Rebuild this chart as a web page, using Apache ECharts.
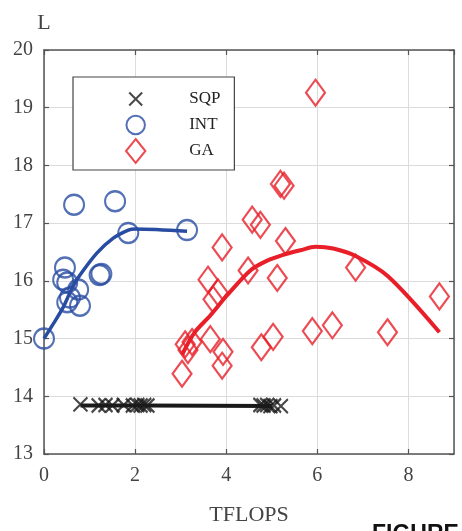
<!DOCTYPE html>
<html>
<head>
<meta charset="utf-8">
<script src="https://cdn.jsdelivr.net/npm/echarts@6/dist/echarts.min.js"></script>
<style>
  html, body { margin: 0; padding: 0; background: #fff; }
  #chart { width: 462px; height: 531px; }
</style>
</head>
<body>
<div id="chart"></div>
<script>
// Axis ticks
const xTicks = [0, 2, 4, 6, 8];
const yTicks = [13, 14, 15, 16, 17, 18, 19, 20];

// SQP runs
const sqpX = [0.80, 1.20, 1.35, 1.50, 1.75, 1.95, 2.05, 2.12, 2.20, 2.27, 4.75, 4.82, 4.90, 4.97, 5.05, 5.20];
const sqpY = [13.86, 13.84, 13.85, 13.84, 13.85, 13.84, 13.85, 13.84, 13.85, 13.84, 13.85, 13.84, 13.85, 13.83, 13.84, 13.83];
const sqpFitX = [0.80, 2.20, 5.00];
const sqpFitY = [13.84, 13.84, 13.83];

// INT runs
const intX = [0.00, 0.66, 1.56, 1.85, 3.14, 1.22, 1.26, 0.46, 0.42, 0.51, 0.75, 0.57, 0.79, 0.51];
const intY = [15.00, 17.32, 17.38, 16.83, 16.88, 16.10, 16.12, 16.23, 16.02, 15.97, 15.85, 15.71, 15.57, 15.63];
const intFitX = [0.00, 0.20, 0.42, 0.62, 0.79, 1.16, 1.52, 1.85, 2.00, 3.14];
const intFitY = [15.00, 15.25, 15.54, 15.88, 16.10, 16.48, 16.74, 16.88, 16.90, 16.86];

// GA runs
const gaX = [5.96, 5.19, 5.27, 4.57, 4.75, 3.91, 5.30, 4.48, 5.12, 3.60, 3.71, 3.82, 3.65, 3.10, 3.25, 3.16, 3.03, 3.93, 3.91, 4.77, 5.03, 5.89, 6.33, 6.84, 7.54, 8.68];
const gaY = [19.26, 17.68, 17.65, 17.06, 16.97, 16.58, 16.69, 16.18, 16.05, 16.02, 15.68, 15.80, 14.99, 14.90, 14.94, 14.80, 14.39, 14.77, 14.53, 14.85, 15.03, 15.13, 15.23, 16.23, 15.11, 15.73];
const gaFitX = [3.03, 3.30, 3.65, 4.02, 4.53, 4.90, 5.25, 5.63, 5.96, 6.35, 6.84, 7.55, 8.68];
const gaFitY = [14.72, 15.10, 15.40, 15.75, 16.18, 16.35, 16.45, 16.53, 16.59, 16.56, 16.43, 16.08, 15.11];

const zip = (xs, ys) => xs.map((x, i) => [x, ys[i]]);

// Marker outlines share one 21x26 box so the legend icons keep their sizes
const pad = ' M-1.05,-1.3 L-1.05,-1.3 M1.05,1.3 L1.05,1.3';
const crossPath = 'path://M-0.7,-0.7 L0.7,0.7 M0.7,-0.7 L-0.7,0.7' + pad;
const circlePath = 'path://M1,0 A1,1 0 1,1 -1,0 A1,1 0 1,1 1,0 Z' + pad;
const diamondPath = 'path://M0,-1.3 L1.05,0 L0,1.3 L-1.05,0 Z';

const serif = '"Liberation Serif", "Times New Roman", serif';
const frame = '#555';
const cBlack = '#1a1a1a';
const cBlue = '#284ca2';
const cRed = '#e81e28';

const chart = echarts.init(document.getElementById('chart'), null, { renderer: 'canvas' });

const option = {
  animation: false,
  backgroundColor: '#fff',
  grid: { left: 44, right: 8, top: 50, bottom: 73, containLabel: false },
  legend: {
    orient: 'vertical',
    left: 73,
    top: 77,
    data: ['SQP', 'INT', 'GA'],
    itemWidth: 21,
    itemHeight: 24,
    itemGap: 0,
    padding: [9, 14, 6, 52],
    backgroundColor: '#fff',
    borderColor: '#444',
    borderWidth: 1.2,
    borderRadius: 0,
    selectedMode: false,
    textStyle: { fontFamily: serif, fontSize: 17, color: '#222', padding: [0, 0, 0, 38] }
  },
  xAxis: [
    {
      type: 'value', min: 0, max: 9, interval: 2, position: 'bottom',
      name: 'TFLOPS', nameLocation: 'middle', nameGap: 50,
      nameTextStyle: { fontFamily: serif, fontSize: 22, color: '#444' },
      axisLine: { show: true, onZero: false, lineStyle: { color: frame, width: 1.5 } },
      axisTick: { show: true, inside: true, length: 5, lineStyle: { color: frame, width: 1.2 } },
      axisLabel: { fontFamily: serif, fontSize: 20, color: '#444', margin: 12, showMaxLabel: false },
      splitLine: { show: true, lineStyle: { color: '#dcdcdc', width: 1 } }
    },
    {
      type: 'value', min: 0, max: 9, interval: 2, position: 'top',
      axisLine: { show: true, onZero: false, lineStyle: { color: frame, width: 1.5 } },
      axisTick: { show: true, inside: true, length: 5, lineStyle: { color: frame, width: 1.2 } },
      axisLabel: { show: false },
      splitLine: { show: false }
    }
  ],
  yAxis: [
    {
      type: 'value', min: yTicks[0], max: yTicks[yTicks.length - 1], interval: 1, position: 'left',
      name: 'L', nameLocation: 'end', nameGap: 16,
      nameTextStyle: { fontFamily: serif, fontSize: 22, color: '#444', align: 'center' },
      axisLine: { show: true, onZero: false, lineStyle: { color: frame, width: 1.5 } },
      axisTick: { show: true, inside: true, length: 5, lineStyle: { color: frame, width: 1.2 } },
      axisLabel: { fontFamily: serif, fontSize: 20, color: '#444', margin: 11 },
      splitLine: { show: true, lineStyle: { color: '#dcdcdc', width: 1 } }
    },
    {
      type: 'value', min: yTicks[0], max: yTicks[yTicks.length - 1], interval: 1, position: 'right',
      axisLine: { show: true, onZero: false, lineStyle: { color: frame, width: 1.5 } },
      axisTick: { show: true, inside: true, length: 5, lineStyle: { color: frame, width: 1.2 } },
      axisLabel: { show: false },
      splitLine: { show: false }
    }
  ],
  series: [
    {
      name: 'SQP', type: 'scatter', data: zip(sqpX, sqpY),
      symbol: crossPath, symbolSize: [21, 26],
      itemStyle: { color: 'rgba(0,0,0,0)', borderColor: cBlack, borderWidth: 2.2 }
    },
    {
      name: 'INT', type: 'scatter', data: zip(intX, intY),
      symbol: circlePath, symbolSize: [21, 26],
      itemStyle: { color: 'rgba(0,0,0,0)', borderColor: cBlue, borderWidth: 2.2 }
    },
    {
      name: 'GA', type: 'scatter', data: zip(gaX, gaY),
      symbol: diamondPath, symbolSize: [19, 26],
      itemStyle: { color: 'rgba(0,0,0,0)', borderColor: cRed, borderWidth: 2.2 }
    },
    {
      name: 'SQP fit', type: 'line', data: zip(sqpFitX, sqpFitY),
      showSymbol: false, symbol: 'none',
      lineStyle: { color: cBlack, width: 4 }
    },
    {
      name: 'INT fit', type: 'line', data: zip(intFitX, intFitY),
      showSymbol: false, symbol: 'none', smooth: 0.3,
      lineStyle: { color: cBlue, width: 3.5 }
    },
    {
      name: 'GA fit', type: 'line', data: zip(gaFitX, gaFitY),
      showSymbol: false, symbol: 'none', smooth: 0.3,
      lineStyle: { color: cRed, width: 4 }
    }
  ],
  graphic: [
    {
      type: 'text', left: 372, top: 523, z: 100,
      style: { text: 'FIGURE', font: 'bold 23px "Liberation Sans", Arial, sans-serif', fill: '#111' }
    }
  ]
};

chart.setOption(option);
</script>
</body>
</html>
